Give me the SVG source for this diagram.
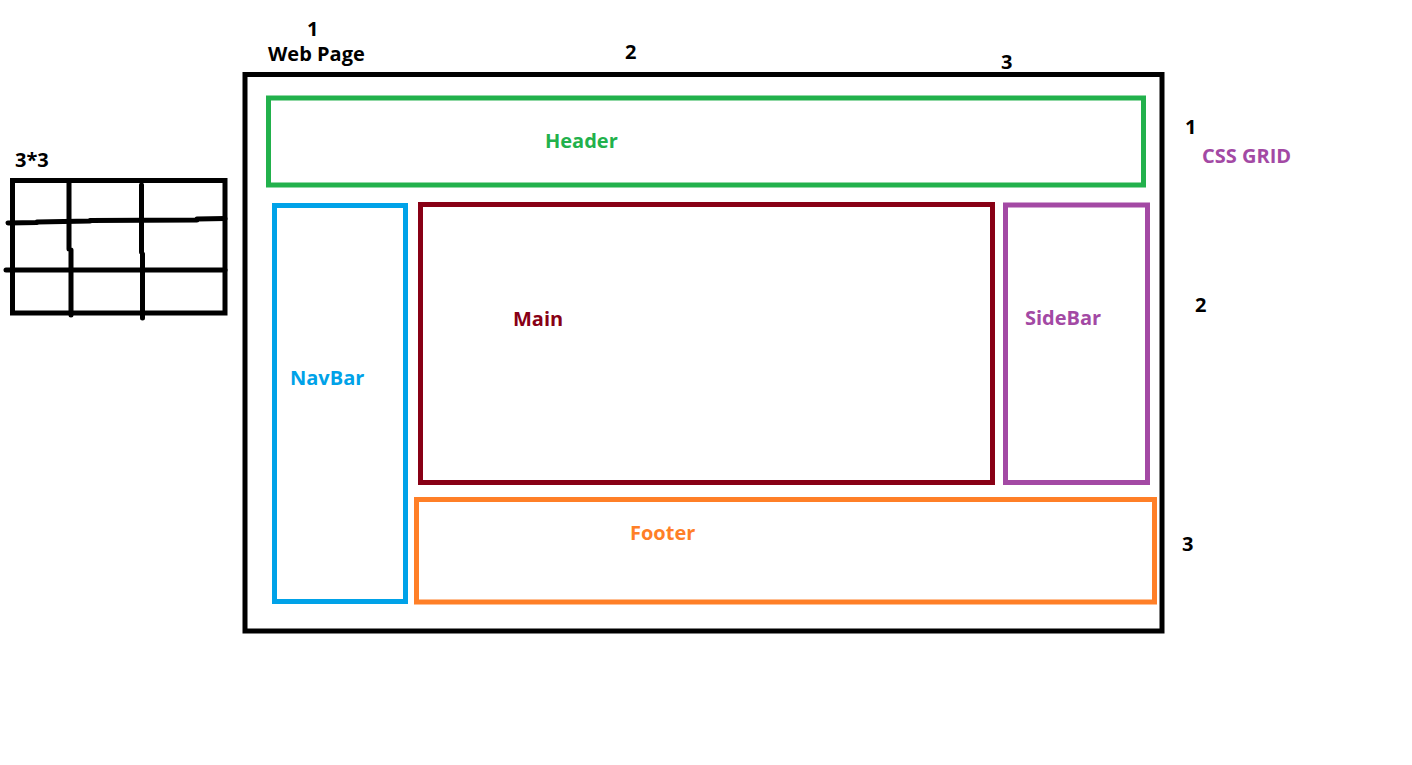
<svg xmlns="http://www.w3.org/2000/svg" width="1412" height="765" viewBox="0 0 1412 765">
  <style>
    .box { fill: none; stroke-width: 5; }
    .grid { fill: none; stroke: #000; stroke-width: 5; stroke-linecap: round; stroke-linejoin: round; }
    text { font-family: "Open Sans", "Noto Sans", "Liberation Sans", sans-serif; font-weight: bold; font-size: 20px; }
    .num { fill: #000; }
  </style>
  <rect x="0" y="0" width="1412" height="765" fill="#fff"/>

  <!-- small 3x3 sketch -->
  <g id="grid-sketch">
    <text x="15" y="167" class="num">3*3</text>
    <rect x="12.5" y="180.5" width="212.5" height="132.5" fill="none" stroke="#000" stroke-width="5"/>
    <path class="grid" d="M69 182 L69 249 M71 250 L71 315 M141.5 185 L141.5 252 M142.5 254 L142.5 318"/>
    <path class="grid" d="M8 223 L37 222.5 M37 222 L90 221 M90 220.5 L197 220 M197 219 L225 218.5"/>
    <path class="grid" d="M6 270 L225 270"/>
  </g>

  <!-- page frame -->
  <g id="web-page">
    <rect class="box" x="245" y="74.5" width="917" height="556.5" stroke="#000"/>
    <text x="268" y="61" class="num" font-size="19.5">Web Page</text>
  </g>

  <!-- column / row numbers -->
  <g id="track-numbers">
    <text x="307" y="36" class="num" font-size="18">1</text>
    <text x="625" y="59" class="num">2</text>
    <text x="1001" y="69" class="num">3</text>
    <text x="1185" y="134" class="num">1</text>
    <text x="1195" y="312" class="num">2</text>
    <text x="1182" y="551" class="num">3</text>
    <text x="1202" y="163" fill="#A349A4">CSS GRID</text>
  </g>

  <g id="header">
    <rect class="box" x="268.5" y="98" width="875" height="87" stroke="#22B14C"/>
    <text x="545" y="148" fill="#22B14C">Header</text>
  </g>

  <g id="navbar">
    <rect class="box" x="274.5" y="205.5" width="131" height="396" stroke="#00A2E8"/>
    <text x="290" y="385" fill="#00A2E8">NavBar</text>
  </g>

  <g id="main">
    <rect class="box" x="420.5" y="204.5" width="572" height="278" stroke="#880015"/>
    <text x="513" y="326" fill="#880015">Main</text>
  </g>

  <g id="sidebar">
    <rect class="box" x="1005.5" y="205" width="142" height="277.5" stroke="#A349A4"/>
    <text x="1025" y="325" fill="#A349A4">SideBar</text>
  </g>

  <g id="footer">
    <rect class="box" x="416.5" y="499.5" width="738" height="102.5" stroke="#FF7F27"/>
    <text x="630" y="540" fill="#FF7F27">Footer</text>
  </g>

  <g id="connectors"></g>
</svg>
